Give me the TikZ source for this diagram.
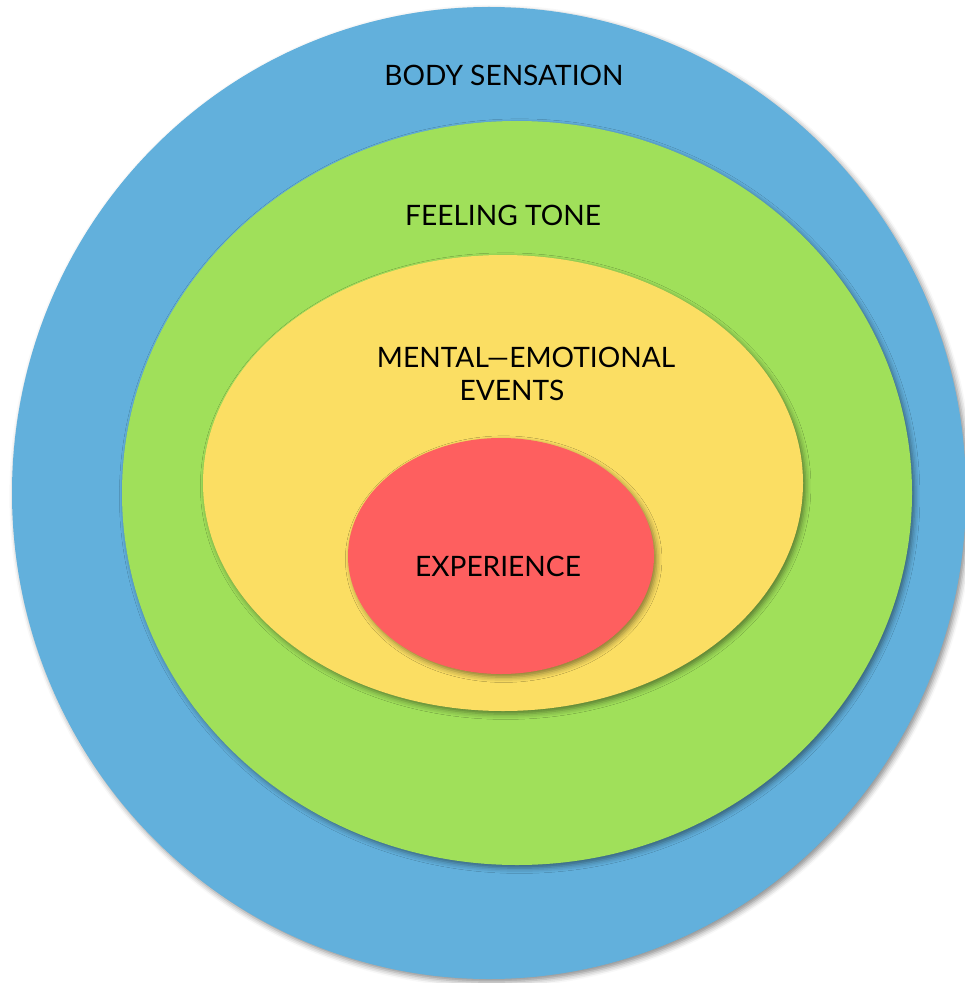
\documentclass[tikz,border=0pt]{standalone}
\usepackage{fontspec}
\setmainfont{Lato}
\usetikzlibrary{shadows,shadows.blur}
\definecolor{bodyblue}{RGB}{98,176,220}
\definecolor{tonegreen}{RGB}{160,224,90}
\definecolor{mindyellow}{RGB}{251,222,99}
\definecolor{expred}{RGB}{254,95,95}

\begin{document}
\begin{tikzpicture}
[x=0.02cm,y=-0.02cm,
    layer/.style={blur shadow={shadow xshift=1.5pt,shadow yshift=-1.8pt,
    shadow blur radius=3pt,shadow opacity=45}},
    lab/.style={font=\fontsize{16}{20}\selectfont,text=black,align=center,inner sep=0}]
\useasboundingbox (0,0) rectangle (964,983);
%% layers
\fill[layer,bodyblue] (489,493) ellipse [x radius=477, y radius=486];
\fill[layer,tonegreen] (517,493) ellipse [x radius=395, y radius=372];
\fill[layer,mindyellow] (503,483) ellipse [x radius=300, y radius=228];
\fill[layer,expred] (501,556) ellipse [x radius=153, y radius=118];
%% labels
\node (body) [lab] at (504,75) {BODY SENSATION};
\node (tone) [lab] at (503,215) {FEELING TONE};
\node (mind) [lab] at (526,357) {MENTAL—EMOTIONAL};
\node (events) [lab] at (512,390) {EVENTS};
\node (exp) [lab] at (498,566) {EXPERIENCE};
\end{tikzpicture}
\end{document}
